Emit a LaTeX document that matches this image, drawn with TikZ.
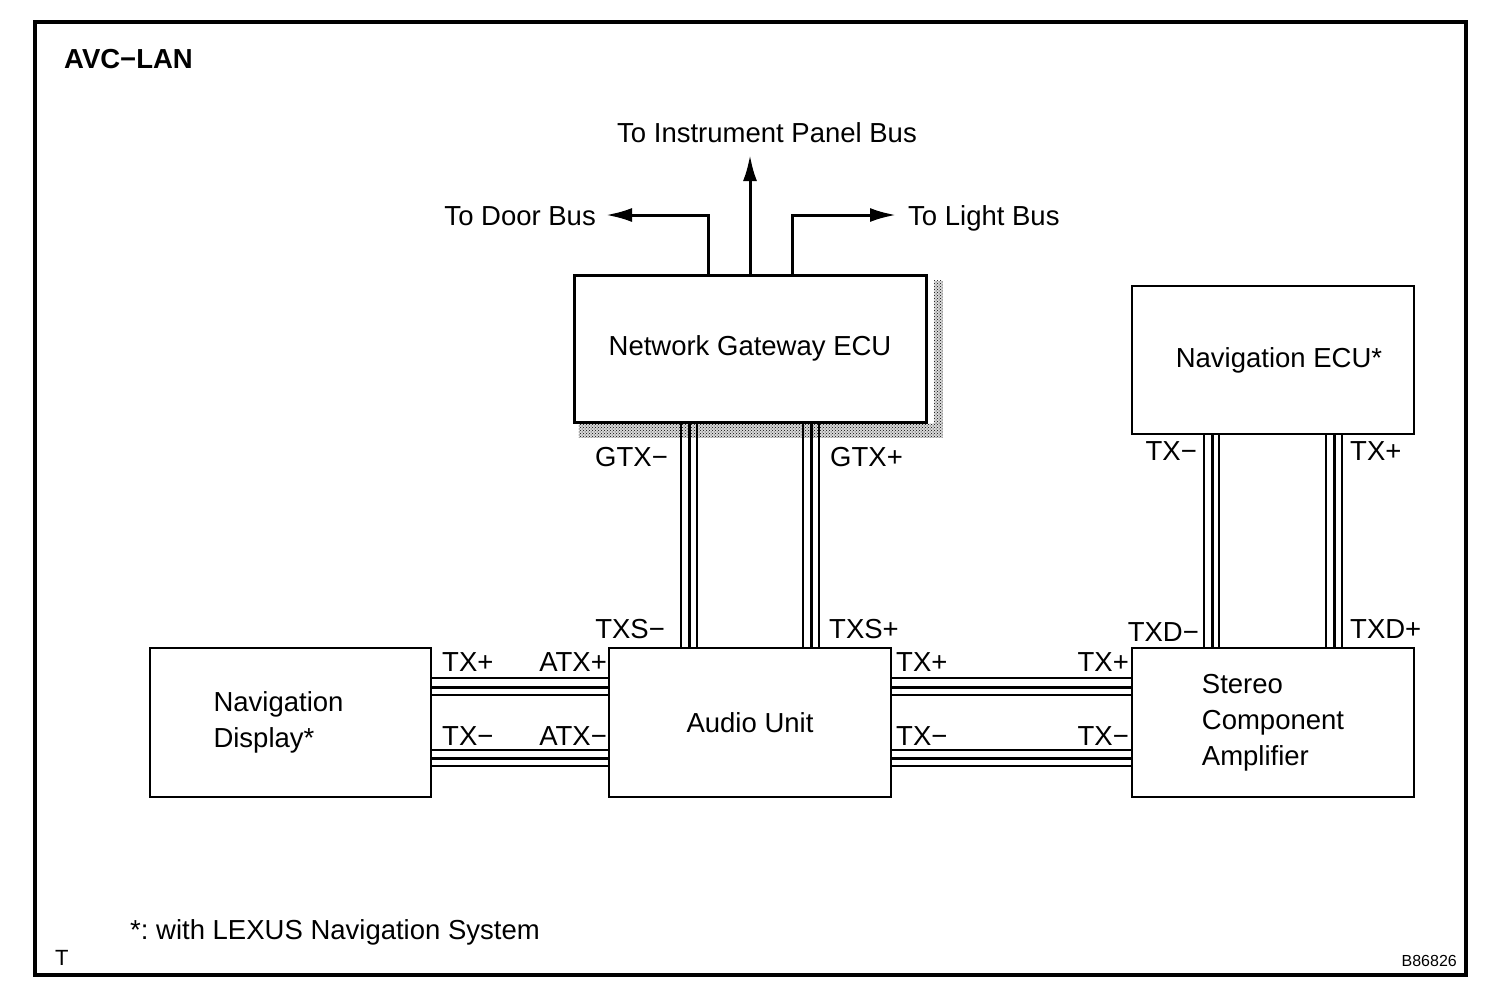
\documentclass[tikz,border=0pt]{standalone}
\usepackage{fontspec}
\setmainfont{Liberation Sans}
\usetikzlibrary{arrows.meta, patterns, backgrounds}
\frenchspacing

\begin{document}
\begin{tikzpicture}[x=1pt, y=-1pt,
	font=\fontsize{27.5}{36}\selectfont,
	unit/.style={draw, line width=2pt, fill=white, inner sep=0pt, align=left},
	pinlabel/.style={inner sep=0pt},
	shade dots/.style={fill=black!15, postaction={pattern=crosshatch dots, pattern color=black}},
	wire/.style={line width=1.8pt},
	wire core/.style={line width=3pt},
	busarrow/.style={line width=3pt, -{Latex[length=26pt, width=14pt]}}]
		\useasboundingbox (0,0) rectangle (1504,1002);
		\draw[line width=3.5pt] (35,22) rectangle (1466,975);
		\node[pinlabel, anchor=base west, font=\fontsize{27.5}{36}\selectfont\bfseries] (title) at (64,68) {AVC−LAN};
		% units
		\node[unit, line width=3pt, minimum width=352, minimum height=147] (gw) at (750,348.5) {Network Gateway ECU};
		\begin{scope}[on background layer]
			\fill[shade dots] ([shift={(6,7)}]gw.north east) rectangle ([shift={(15,14)}]gw.south east);
			\fill[shade dots] ([shift={(6,0)}]gw.south west) rectangle ([shift={(15,14)}]gw.south east);
		\end{scope}
		\node[unit, minimum width=282, minimum height=148] (ne) at (1273,360) {\hspace*{12pt}Navigation ECU*};
		\node[unit, minimum width=281, minimum height=149] (nd) at (290.5,722.5) {Navigation\hspace*{24pt}\\Display*};
		\node[unit, minimum width=282, minimum height=149] (au) at (750,722.5) {Audio Unit};
		\node[unit, minimum width=282, minimum height=149] (sca) at (1273,722.5) {Stereo\\Component\\Amplifier};
		% buses out of the gateway
		\node[pinlabel, anchor=base] (ipbus) at (767,142) {To Instrument Panel Bus};
		\node[pinlabel, anchor=base east] (doorbus) at (596,225) {To Door Bus};
		\node[pinlabel, anchor=base west] (lightbus) at (908,225) {To Light Bus};
		\coordinate (ipend) at (750,155);
		\coordinate (doorend) at (606,215);
		\coordinate (lightend) at (896,215);
		\draw[busarrow] (gw.north) -- (ipend);
		\draw[busarrow] (gw.north -| 708,0) |- (doorend);
		\draw[busarrow] (gw.north -| 792,0) |- (lightend);
		% vertical pairs
		\foreach \a/\b/\c in {681/689/697, 803/811/819}{
			\draw[wire] (gw.south -| \a,0) -- (au.north -| \a,0);
			\draw[wire core] (gw.south -| \b,0) -- (au.north -| \b,0);
			\draw[wire] (gw.south -| \c,0) -- (au.north -| \c,0);
		}
		\foreach \a/\b/\c in {1204/1212/1219, 1326/1334/1342}{
			\draw[wire] (ne.south -| \a,0) -- (sca.north -| \a,0);
			\draw[wire core] (ne.south -| \b,0) -- (sca.north -| \b,0);
			\draw[wire] (ne.south -| \c,0) -- (sca.north -| \c,0);
		}
		% horizontal pairs
		\foreach \a/\b/\c in {678/687/695, 750/758/766}{
			\draw[wire] (nd.east |- 0,\a) -- (au.west |- 0,\a);
			\draw[wire core] (nd.east |- 0,\b) -- (au.west |- 0,\b);
			\draw[wire] (nd.east |- 0,\c) -- (au.west |- 0,\c);
			\draw[wire] (au.east |- 0,\a) -- (sca.west |- 0,\a);
			\draw[wire core] (au.east |- 0,\b) -- (sca.west |- 0,\b);
			\draw[wire] (au.east |- 0,\c) -- (sca.west |- 0,\c);
		}
		% terminal names
		\node[pinlabel, anchor=base east] (gtxm) at (668,466) {GTX−};
		\node[pinlabel, anchor=base west] (gtxp) at (830,466) {GTX+};
		\node[pinlabel, anchor=base east] (txsm) at (665,638) {TXS−};
		\node[pinlabel, anchor=base west] (txsp) at (829,638) {TXS+};
		\node[pinlabel, anchor=base east] (netxm) at (1197,460) {TX−};
		\node[pinlabel, anchor=base west] (netxp) at (1350,460) {TX+};
		\node[pinlabel, anchor=base east] (txdm) at (1199,641) {TXD−};
		\node[pinlabel, anchor=base west] (txdp) at (1350,638) {TXD+};
		\node[pinlabel, anchor=base west] (ndtxp) at (442,671) {TX+};
		\node[pinlabel, anchor=base west] (ndtxm) at (442,745) {TX−};
		\node[pinlabel, anchor=base east] (atxp) at (607,671) {ATX+};
		\node[pinlabel, anchor=base east] (atxm) at (607,745) {ATX−};
		\node[pinlabel, anchor=base west] (autxp) at (896,671) {TX+};
		\node[pinlabel, anchor=base west] (autxm) at (896,745) {TX−};
		\node[pinlabel, anchor=base east] (scatxp) at (1129,671) {TX+};
		\node[pinlabel, anchor=base east] (scatxm) at (1129,745) {TX−};
		% notes
		\node[pinlabel, anchor=base west] (note) at (130,939) {*: with LEXUS Navigation System};
		\node[pinlabel, anchor=base west, font=\fontsize{22}{26}\selectfont] (tmark) at (55,965) {T};
		\node[pinlabel, anchor=base east, font=\fontsize{16}{20}\selectfont] (figno) at (1457,966) {B86826};
	\end{tikzpicture}
\end{document}
